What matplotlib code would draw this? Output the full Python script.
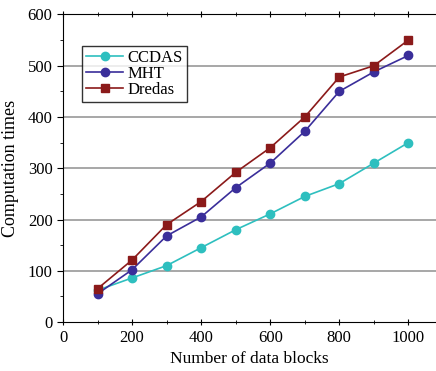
import matplotlib
matplotlib.use("Agg")
import matplotlib.pyplot as plt
from matplotlib.ticker import MultipleLocator

plt.rcParams['font.family'] = ['Liberation Serif', 'DejaVu Serif']

blocks = [100, 200, 300, 400, 500, 600, 700, 800, 900, 1000]
ccdas = [62, 86, 110, 145, 180, 211, 245, 270, 310, 350]
mht = [55, 102, 168, 205, 262, 310, 372, 450, 488, 520]
dredas = [65, 121, 190, 235, 292, 340, 400, 478, 500, 550]

fig = plt.figure(figsize=(4.36, 3.71), dpi=100)
ax = fig.add_axes([0.1445, 0.132, 0.8555, 0.829])

# grey horizontal guide lines
for y in [100, 200, 300, 400, 500]:
    ax.axhline(y, color='#a0a0a0', lw=1.3, zorder=0)

ax.plot(blocks, ccdas, '-o', color='#2ebfbf', markersize=6, lw=1.2, label='CCDAS')
ax.plot(blocks, mht, '-o', color='#3a2e9a', markersize=6, lw=1.2, label='MHT')
ax.plot(blocks, dredas, '-s', color='#8b1a1a', markersize=6, lw=1.2, label='Dredas')

ax.set_xlim(0, 1080)
ax.set_ylim(0, 600)
ax.xaxis.set_major_locator(MultipleLocator(200))
ax.xaxis.set_minor_locator(MultipleLocator(100))
ax.yaxis.set_major_locator(MultipleLocator(100))
ax.yaxis.set_minor_locator(MultipleLocator(50))
ax.spines['right'].set_visible(False)
ax.tick_params(axis='both', which='major', labelsize=12, length=4)
ax.tick_params(axis='both', which='minor', length=2.5)
ax.tick_params(axis='x', which='both', top=True, direction='inout')
ax.tick_params(axis='y', which='both', direction='out')

ax.set_xlabel('Number of data blocks', fontsize=12.5)
ax.set_ylabel('Computation times', fontsize=13, labelpad=6)

leg = ax.legend(loc='upper left', bbox_to_anchor=(0.051, 0.898), borderaxespad=0,
                fontsize=12, frameon=True, fancybox=False, edgecolor='black',
                handlelength=2.2, borderpad=0.25, labelspacing=0.0,
                handletextpad=0.3)
leg.get_frame().set_linewidth(1.0)

fig.savefig('out.png', dpi=100)
